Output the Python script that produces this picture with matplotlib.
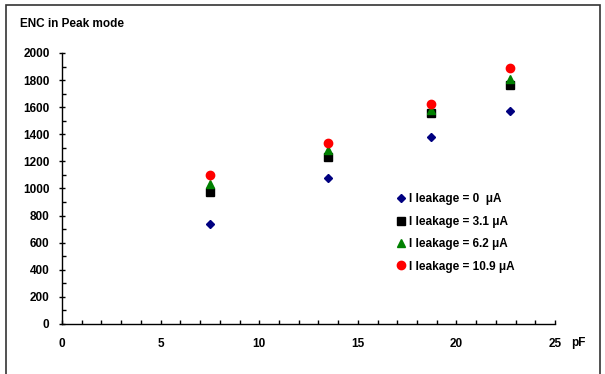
import matplotlib
matplotlib.use("Agg")
import matplotlib.pyplot as plt
from matplotlib.patches import Rectangle
from matplotlib.ticker import MultipleLocator

# capacitance (pF)
cap = [7.5, 13.5, 18.7, 22.7]

# ENC for each leakage current
enc_0 = [736, 1081, 1378, 1573]
enc_3_1 = [975, 1235, 1558, 1763]
enc_6_2 = [1030, 1284, 1578, 1807]
enc_10_9 = [1101, 1333, 1627, 1886]

labels = ["I leakage = 0  \u03bcA", "I leakage = 3.1 \u03bcA",
          "I leakage = 6.2 \u03bcA", "I leakage = 10.9 \u03bcA"]

plt.rcParams['font.family'] = ['Liberation Sans', 'DejaVu Sans']
plt.rcParams['font.weight'] = 'bold'

fig = plt.figure(figsize=(6.05, 3.74), dpi=100)
ax = fig.add_axes([0.1025, 0.1337, 0.815, 0.7246])

ax.plot(cap, enc_0, 'D', color='#000080', ms=4, ls='none', label=labels[0])
ax.plot(cap, enc_3_1, 's', color='black', ms=5.8, ls='none', label=labels[1])
ax.plot(cap, enc_6_2, '^', color='#008000', ms=6, ls='none', label=labels[2])
ax.plot(cap, enc_10_9, 'o', color='#ff0000', ms=6, ls='none', label=labels[3])

ax.set_xlim(0, 25)
ax.set_ylim(0, 2000)
ax.xaxis.set_major_locator(MultipleLocator(5))
ax.xaxis.set_minor_locator(MultipleLocator(1))
ax.yaxis.set_major_locator(MultipleLocator(200))
ax.yaxis.set_minor_locator(MultipleLocator(100))

for s in ['top', 'right']:
    ax.spines[s].set_visible(False)
for s in ['left', 'bottom']:
    ax.spines[s].set_linewidth(1.0)

fs = 8.5
ax.tick_params(axis='x', which='both', direction='in', length=3, width=1,
               labelsize=fs, pad=10)
ax.tick_params(axis='y', which='major', direction='inout', length=4, width=1,
               labelsize=fs, pad=7)
ax.tick_params(axis='y', which='minor', direction='in', length=3, width=1)

ax.text(1.047, -0.069, "pF", transform=ax.transAxes, fontsize=fs,
        fontweight='bold', ha='center', va='center')

fig.text(0.033, 0.937, "ENC in Peak mode", fontsize=fs, fontweight='bold',
         ha='left', va='center')

leg = ax.legend(loc='upper left', bbox_to_anchor=(0.681, 0.482), frameon=False,
                fontsize=fs, handlelength=0.6, handletextpad=0.35,
                labelspacing=0.88, borderaxespad=0, borderpad=0)

# outer frame of the chart
fig.patches.append(Rectangle((6 / 605, -0.05), 594 / 605, 1.05 - 5 / 374,
                             transform=fig.transFigure, fill=False,
                             edgecolor='#333333', linewidth=1.2))

fig.savefig("out.png", dpi=100)
